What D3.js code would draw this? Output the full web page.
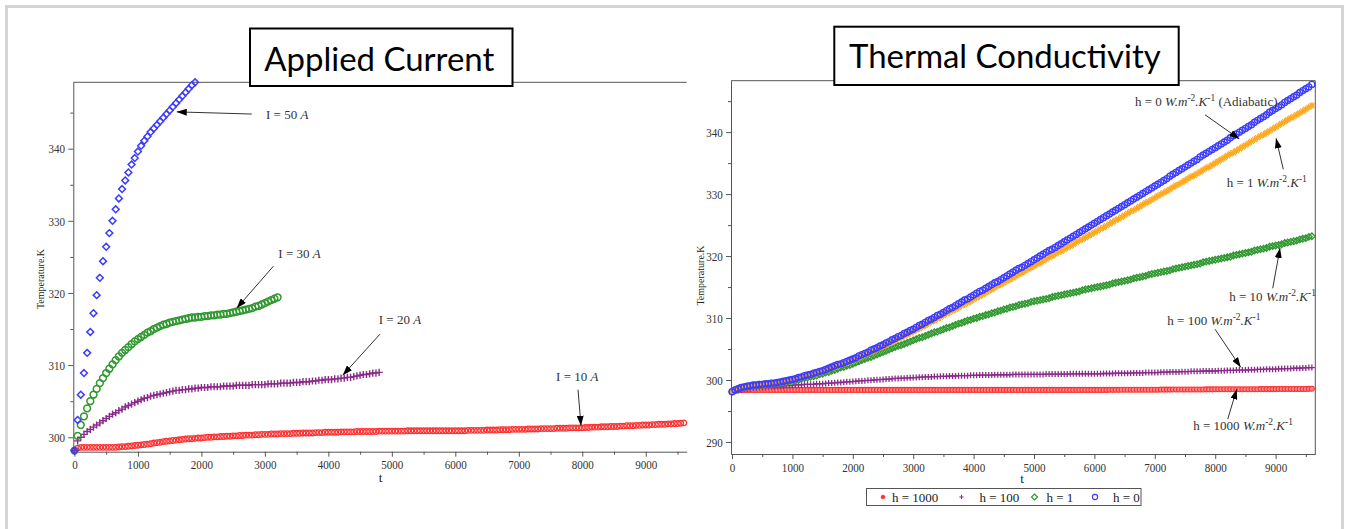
<!DOCTYPE html>
<html lang="en">
<head>
<meta charset="utf-8">
<script src="https://d3js.org/d3.v7.min.js"></script>
<style>
body { margin: 0; background: #fff; }
svg text { font-family: "Liberation Serif", "Times New Roman", serif; fill: #222; }
.tick text { font-size: 13.5px; fill: #333; }
.axis path, .axis line { stroke: #555; }
.title { font-family: Lato, "Open Sans", sans-serif; fill: #000; }
.note { font-size: 13px; fill: #333; }
</style>
</head>
<body>
<svg id="chart" width="1346" height="529"></svg>
<script>
// sampling step of every series (s)
var tStep = 50;

// ---- Applied current (left) ----
var i50 = [
298.15,302.4,305.9,308.9,311.7,314.6,317.2,319.7,322.1,324.4,
326.4,328.3,330.0,331.6,333.1,334.4,335.6,336.7,337.8,338.7,
339.6,340.4,341.1,341.7,342.3,342.8,343.3,343.8,344.3,344.8,
345.3,345.8,346.3,346.8,347.3,347.8,348.3,348.8,349.2];

var i30 = [
298.15,300.2,301.7,302.9,304.0,305.0,305.9,306.7,307.5,308.2,
308.9,309.5,310.1,310.7,311.2,311.7,312.1,312.5,312.9,313.3,
313.6,313.9,314.2,314.5,314.7,315.0,315.2,315.4,315.6,315.7,
315.9,316.0,316.1,316.2,316.3,316.4,316.5,316.6,316.6,316.7,
316.7,316.8,316.8,316.9,316.9,317.0,317.0,317.1,317.1,317.2,
317.3,317.4,317.5,317.6,317.7,317.8,317.9,318.1,318.2,318.4,
318.6,318.8,319.0,319.2,319.4];

var i20 = [
298.15,299.5,300.0,300.4,300.8,301.1,301.4,301.7,302.0,302.3,
302.6,302.9,303.2,303.4,303.7,303.9,304.2,304.4,304.6,304.8,
305.0,305.2,305.4,305.5,305.7,305.8,305.9,306.0,306.1,306.2,
306.3,306.4,306.5,306.5,306.6,306.6,306.7,306.7,306.8,306.8,
306.9,306.9,306.9,307.0,307.0,307.0,307.0,307.1,307.1,307.1,
307.1,307.2,307.2,307.2,307.2,307.2,307.3,307.3,307.3,307.3,
307.3,307.4,307.4,307.4,307.4,307.5,307.5,307.5,307.5,307.6,
307.6,307.6,307.7,307.7,307.7,307.8,307.8,307.9,307.9,308.0,
308.0,308.0,308.1,308.1,308.2,308.2,308.3,308.3,308.4,308.5,
308.6,308.7,308.7,308.8,308.9,308.9,309.0];

var i10 = [
298.15,298.5,298.6,298.6,298.6,298.6,298.6,298.6,298.6,298.6,
298.6,298.6,298.6,298.6,298.65,298.7,298.7,298.75,298.8,298.85,
298.9,298.95,299.0,299.05,299.1,299.2,299.25,299.3,299.4,299.45,
299.5,299.55,299.6,299.65,299.7,299.75,299.8,299.8,299.85,299.9,
299.9,299.95,300.0,300.0,300.05,300.05,300.1,300.1,300.15,300.15,
300.2,300.2,300.25,300.25,300.3,300.3,300.3,300.35,300.35,300.4,
300.4,300.4,300.45,300.45,300.45,300.5,300.5,300.5,300.5,300.55,
300.55,300.55,300.6,300.6,300.6,300.6,300.65,300.65,300.65,300.7,
300.7,300.7,300.7,300.7,300.75,300.75,300.75,300.75,300.75,300.8,
300.8,300.8,300.8,300.8,300.8,300.8,300.85,300.85,300.85,300.85,
300.85,300.85,300.85,300.85,300.85,300.9,300.9,300.9,300.9,300.9,
300.9,300.9,300.9,300.9,300.9,300.9,300.9,300.9,300.9,300.9,
300.9,300.9,300.9,300.9,300.95,300.95,300.95,300.95,300.95,300.95,
301.0,301.0,301.0,301.0,301.05,301.05,301.05,301.05,301.1,301.1,
301.1,301.1,301.1,301.15,301.15,301.15,301.15,301.2,301.2,301.2,
301.2,301.2,301.25,301.25,301.25,301.25,301.3,301.3,301.3,301.3,
301.3,301.35,301.35,301.4,301.4,301.4,301.45,301.45,301.45,301.5,
301.5,301.5,301.55,301.55,301.6,301.6,301.6,301.65,301.65,301.7,
301.7,301.7,301.75,301.75,301.8,301.8,301.8,301.85,301.85,301.9,
301.9,301.95,302.0];

// ---- Thermal conductivity (right) ----
var h0 = [
298.1,298.4,298.6,298.8,298.9,299.0,299.1,299.2,299.2,299.3,
299.3,299.4,299.4,299.5,299.5,299.6,299.7,299.8,299.9,300.0,
300.1,300.2,300.4,300.5,300.7,300.8,300.9,301.1,301.2,301.4,
301.5,301.7,301.9,302.1,302.3,302.5,302.6,302.8,303.0,303.2,
303.4,303.6,303.9,304.1,304.3,304.5,304.8,305.0,305.2,305.5,
305.7,306.0,306.2,306.5,306.7,307.0,307.2,307.5,307.7,308.0,
308.2,308.5,308.8,309.0,309.3,309.6,309.8,310.1,310.4,310.6,
310.9,311.2,311.5,311.7,312.0,312.3,312.6,312.9,313.1,313.4,
313.7,314.0,314.3,314.5,314.8,315.1,315.4,315.7,315.9,316.2,
316.5,316.8,317.1,317.4,317.7,318.0,318.2,318.5,318.8,319.1,
319.4,319.7,320.0,320.3,320.6,320.9,321.1,321.4,321.7,322.0,
322.3,322.6,322.9,323.2,323.5,323.8,324.1,324.4,324.7,325.0,
325.3,325.6,325.9,326.2,326.5,326.8,327.1,327.4,327.7,328.0,
328.3,328.6,328.9,329.2,329.5,329.8,330.1,330.4,330.7,331.0,
331.3,331.6,331.9,332.2,332.5,332.9,333.2,333.5,333.8,334.1,
334.4,334.7,335.0,335.3,335.6,336.0,336.3,336.6,336.9,337.2,
337.5,337.8,338.1,338.4,338.7,339.1,339.4,339.7,340.0,340.3,
340.6,340.9,341.2,341.6,341.9,342.2,342.5,342.8,343.2,343.5,
343.8,344.1,344.4,344.8,345.1,345.4,345.7,346.0,346.4,346.7,
347.0,347.3,347.7];

var h1 = [
298.1,298.4,298.6,298.8,298.9,299.0,299.1,299.2,299.2,299.3,
299.3,299.3,299.4,299.4,299.5,299.5,299.6,299.7,299.8,299.9,
300.0,300.1,300.3,300.4,300.6,300.7,300.8,301.0,301.1,301.3,
301.4,301.6,301.8,302.0,302.1,302.3,302.5,302.7,302.8,303.0,
303.2,303.4,303.6,303.9,304.1,304.3,304.5,304.7,305.0,305.2,
305.4,305.6,305.9,306.1,306.4,306.6,306.8,307.1,307.3,307.6,
307.8,308.1,308.3,308.6,308.8,309.1,309.4,309.6,309.9,310.1,
310.4,310.7,310.9,311.2,311.4,311.7,312.0,312.2,312.5,312.7,
313.0,313.3,313.5,313.8,314.1,314.4,314.6,314.9,315.2,315.4,
315.7,316.0,316.2,316.5,316.8,317.1,317.3,317.6,317.9,318.1,
318.4,318.7,318.9,319.2,319.5,319.8,320.0,320.3,320.6,320.8,
321.1,321.4,321.6,321.9,322.2,322.5,322.7,323.0,323.3,323.5,
323.8,324.1,324.4,324.6,324.9,325.2,325.5,325.8,326.0,326.3,
326.6,326.9,327.2,327.4,327.7,328.0,328.3,328.6,328.8,329.1,
329.4,329.7,330.0,330.2,330.5,330.8,331.1,331.4,331.6,331.9,
332.2,332.5,332.8,333.0,333.3,333.6,333.9,334.2,334.4,334.7,
335.0,335.3,335.6,335.9,336.2,336.5,336.7,337.0,337.3,337.6,
337.9,338.2,338.5,338.8,339.1,339.4,339.6,339.9,340.2,340.5,
340.8,341.1,341.4,341.7,342.0,342.3,342.5,342.8,343.1,343.4,
343.7,344.0,344.3];

var h10 = [
298.1,298.4,298.6,298.7,298.8,298.9,299.0,299.1,299.1,299.2,
299.2,299.3,299.3,299.4,299.4,299.5,299.5,299.6,299.6,299.7,
299.8,299.9,300.0,300.2,300.3,300.4,300.5,300.6,300.7,300.9,
301.0,301.2,301.3,301.5,301.6,301.8,302.0,302.1,302.3,302.4,
302.6,302.8,303.0,303.2,303.4,303.6,303.7,303.9,304.1,304.3,
304.5,304.7,304.9,305.1,305.3,305.5,305.6,305.8,306.0,306.2,
306.4,306.6,306.8,306.9,307.1,307.3,307.5,307.7,307.8,308.0,
308.2,308.4,308.5,308.7,308.9,309.1,309.2,309.4,309.6,309.7,
309.9,310.0,310.2,310.3,310.5,310.6,310.8,310.9,311.1,311.2,
311.4,311.5,311.7,311.8,311.9,312.1,312.2,312.3,312.4,312.6,
312.7,312.8,312.9,313.0,313.1,313.2,313.4,313.5,313.6,313.7,
313.8,313.9,314.0,314.1,314.2,314.3,314.5,314.6,314.7,314.8,
314.9,315.0,315.1,315.2,315.3,315.4,315.6,315.7,315.8,315.9,
316.0,316.1,316.2,316.4,316.5,316.6,316.7,316.8,317.0,317.1,
317.2,317.3,317.4,317.5,317.6,317.7,317.9,318.0,318.1,318.2,
318.3,318.4,318.5,318.6,318.7,318.8,319.0,319.1,319.2,319.3,
319.4,319.5,319.6,319.7,319.8,319.9,320.1,320.2,320.3,320.4,
320.5,320.6,320.7,320.9,321.0,321.1,321.2,321.3,321.5,321.6,
321.7,321.8,321.9,322.1,322.2,322.3,322.4,322.5,322.7,322.8,
322.9,323.1,323.2];

var h100 = [
298.1,298.2,298.3,298.4,298.5,298.5,298.6,298.7,298.7,298.8,
298.8,298.8,298.9,298.9,298.9,299.0,299.0,299.0,299.1,299.1,
299.1,299.2,299.2,299.2,299.3,299.3,299.3,299.3,299.4,299.4,
299.4,299.45,299.5,299.5,299.55,299.6,299.6,299.65,299.7,299.7,
299.75,299.8,299.85,299.85,299.9,299.95,299.95,300.0,300.05,300.05,
300.1,300.15,300.15,300.2,300.25,300.25,300.3,300.3,300.35,300.35,
300.4,300.4,300.45,300.45,300.5,300.5,300.5,300.55,300.55,300.6,
300.6,300.6,300.65,300.65,300.65,300.7,300.7,300.7,300.7,300.75,
300.75,300.75,300.8,300.8,300.8,300.8,300.8,300.85,300.85,300.85,
300.85,300.85,300.85,300.9,300.9,300.9,300.9,300.9,300.9,300.9,
300.9,300.9,300.9,300.9,300.95,300.95,300.95,300.95,300.95,300.95,
300.95,300.95,301.0,301.0,301.0,301.0,301.0,301.0,301.0,301.0,
301.0,301.0,301.0,301.05,301.05,301.05,301.05,301.1,301.1,301.1,
301.1,301.1,301.1,301.15,301.15,301.15,301.15,301.2,301.2,301.2,
301.2,301.2,301.25,301.25,301.25,301.3,301.3,301.3,301.3,301.35,
301.35,301.35,301.4,301.4,301.4,301.4,301.45,301.45,301.45,301.45,
301.45,301.5,301.5,301.5,301.55,301.55,301.55,301.6,301.6,301.6,
301.6,301.65,301.65,301.65,301.7,301.7,301.7,301.75,301.75,301.75,
301.75,301.8,301.8,301.85,301.85,301.85,301.9,301.9,301.9,301.95,
301.95,302.0,302.0];

var h1000 = [
298.06,298.25,298.32,298.36,298.38,298.4,298.4,298.4,298.4,298.4,
298.4,298.4,298.4,298.4,298.4,298.4,298.4,298.4,298.4,298.4,
298.4,298.4,298.4,298.4,298.4,298.4,298.4,298.4,298.4,298.4,
298.4,298.4,298.4,298.4,298.4,298.4,298.4,298.4,298.4,298.4,
298.4,298.4,298.4,298.4,298.4,298.4,298.4,298.4,298.4,298.4,
298.4,298.4,298.4,298.4,298.4,298.4,298.4,298.4,298.4,298.4,
298.4,298.4,298.4,298.4,298.4,298.4,298.4,298.4,298.4,298.4,
298.4,298.4,298.4,298.4,298.4,298.4,298.4,298.4,298.4,298.4,
298.4,298.4,298.4,298.4,298.4,298.4,298.4,298.4,298.4,298.4,
298.4,298.4,298.4,298.4,298.4,298.4,298.4,298.4,298.4,298.4,
298.4,298.4,298.4,298.4,298.4,298.4,298.4,298.4,298.4,298.4,
298.4,298.4,298.4,298.4,298.4,298.4,298.4,298.4,298.4,298.4,
298.4,298.4,298.4,298.4,298.4,298.41,298.41,298.41,298.41,298.42,
298.42,298.42,298.42,298.43,298.43,298.43,298.43,298.44,298.44,298.44,
298.44,298.44,298.45,298.45,298.45,298.45,298.46,298.46,298.46,298.46,
298.47,298.47,298.47,298.48,298.48,298.48,298.48,298.49,298.49,298.49,
298.5,298.5,298.5,298.5,298.5,298.51,298.51,298.51,298.51,298.51,
298.51,298.52,298.52,298.52,298.52,298.53,298.53,298.53,298.53,298.53,
298.53,298.54,298.54,298.54,298.54,298.55,298.55,298.55,298.55,298.55,
298.56,298.57,298.58];

var xTicks = [0,1000,2000,3000,4000,5000,6000,7000,8000,9000];
var xMinor = [500,1500,2500,3500,4500,5500,6500,7500,8500,9500];
var yTicksL = [300,310,320,330,340];
var yMinorL = [305,315,325,335,345];
var yTicksR = [290,300,310,320,330,340];
var yMinorR = [295,305,315,325,335,345];
var legendLabels = ["h = 1000", "h = 100", "h = 1", "h = 0"];

var svg = d3.select("#chart");

// outer grey frame
svg.append("rect").attr("x",6.5).attr("y",6.5).attr("width",1336).attr("height",540)
   .attr("fill","none").attr("stroke","#d4d4d4").attr("stroke-width",3);

var defs = svg.append("defs");
defs.append("marker").attr("id","arrow").attr("viewBox","0 0 10 7")
    .attr("refX",10).attr("refY",3.5).attr("markerUnits","userSpaceOnUse")
    .attr("markerWidth",10).attr("markerHeight",7).attr("orient","auto")
  .append("path").attr("d","M0,0L10,3.5L0,7Z").attr("fill","#000");

// marker shapes
var shapes = {
  diamond: function(r){ return "M0,"+(-r)+"L"+r+",0L0,"+r+"L"+(-r)+",0Z"; },
  circle: function(r){ return "M"+r+",0A"+r+","+r+" 0 1,1 "+(-r)+",0A"+r+","+r+" 0 1,1 "+r+",0Z"; },
  plus: function(r){ return "M"+(-r)+",0H"+r+"M0,"+(-r)+"V"+r; },
  star: function(r){ var a=r*0.7; return "M"+(-r)+",0H"+r+"M0,"+(-r)+"V"+r+"M"+(-a)+","+(-a)+"L"+a+","+a+"M"+(-a)+","+a+"L"+a+","+(-a); }
};

function drawSeries(g, x, y, vals, s) {
  g.append("g").selectAll("path").data(vals).enter().append("path")
    .attr("transform", function(d,i){ return "translate("+x(i*tStep)+","+y(d)+")"; })
    .attr("d", shapes[s.shape](s.r))
    .attr("fill", s.fill || "none")
    .attr("stroke", s.color)
    .attr("stroke-width", s.w || 1);
}

function drawAxes(x, y, xt, xm, yt, ym, boxed) {
  var x0 = x.range()[0], x1 = x.range()[1], y0 = y.range()[0], y1 = y.range()[1];
  var ax = svg.append("g").attr("class","axis").attr("transform","translate(0,"+y0+")")
    .call(d3.axisBottom(x).tickValues(xt).tickSize(5).tickSizeOuter(0).tickFormat(d3.format("d")));
  ax.selectAll(".tick text").attr("transform","scale(0.82,1)");
  svg.append("g").attr("class","axis").attr("transform","translate(0,"+y0+")")
    .call(d3.axisBottom(x).tickValues(xm).tickSize(3).tickSizeOuter(0).tickFormat(""))
    .select(".domain").remove();
  var ay = svg.append("g").attr("class","axis").attr("transform","translate("+x0+",0)")
    .call(d3.axisLeft(y).tickValues(yt).tickSize(5).tickPadding(5).tickSizeOuter(0).tickFormat(d3.format("d")));
  ay.selectAll(".tick text").attr("transform","scale(0.82,1)");
  svg.append("g").attr("class","axis").attr("transform","translate("+x0+",0)")
    .call(d3.axisLeft(y).tickValues(ym).tickSize(3).tickSizeOuter(0).tickFormat(""))
    .select(".domain").remove();
  svg.append("line").attr("x1",x0).attr("x2",x1).attr("y1",y1).attr("y2",y1).attr("stroke","#555");
  if (boxed) svg.append("line").attr("x1",x1).attr("x2",x1).attr("y1",y1).attr("y2",y0).attr("stroke","#555");
}

function annotate(x, y, a) {
  svg.append("line")
    .attr("x1", x(a.tail[0])).attr("y1", y(a.tail[1]))
    .attr("x2", x(a.tip[0])).attr("y2", y(a.tip[1]))
    .attr("stroke","#333").attr("stroke-width",1).attr("marker-end","url(#arrow)");
  var txt = svg.append("text").attr("class","note").attr("x", x(a.at[0])).attr("y", y(a.at[1]));
  var shift = 0;
  a.parts.forEach(function(p){
    var ts = txt.append("tspan").text(p[0]);
    if (p[1] === "i") ts.style("font-style","italic");
    var want = p[1] === "s" ? -5 : 0;
    if (want !== shift) { ts.attr("dy", want - shift); shift = want; }
    if (p[1] === "s") ts.style("font-size","9.5px");
  });
}

function titleBox(label, bx, by, bw, bh, cx, base, targetW) {
  svg.append("rect").attr("x",bx).attr("y",by).attr("width",bw).attr("height",bh)
    .attr("fill","#fff").attr("stroke","#000").attr("stroke-width",2);
  var t = svg.append("text").attr("class","title").attr("x",cx).attr("y",base)
    .attr("text-anchor","middle").style("font-size","30px").text(label);
  var w = t.node().getComputedTextLength();
  t.style("font-size", (30 * targetW / w).toFixed(2) + "px");
}

function yLabel(x, y) {
  svg.append("text").attr("transform","translate("+x+","+y+") rotate(-90)")
    .attr("text-anchor","middle").style("font-size","10px").attr("fill","#333").text("Temperature.K");
}

// ---------- left chart ----------
var xL = d3.scaleLinear().domain([-18, 9645]).range([73.3, 686.7]);
var yL = d3.scaleLinear().domain([298.0, 349.2]).range([451.7, 82.3]);
drawAxes(xL, yL, xTicks, xMinor, yTicksL, yMinorL, false);

var gL = svg.append("g");
drawSeries(gL, xL, yL, i10, {shape:"circle", r:2.8, color:"#ff3030", w:1.3});
drawSeries(gL, xL, yL, i20, {shape:"plus", r:3.6, color:"#8b2a8b", w:1.4});
drawSeries(gL, xL, yL, i30, {shape:"circle", r:3.4, color:"#2f982f", w:1.5});
drawSeries(gL, xL, yL, i50, {shape:"diamond", r:3.4, color:"#3b3bff", w:1.5});

var notesL = [
  {tip:[1612,345.1], tail:[2793,344.8], at:[3018,344.1], parts:[["I = 50 ","n"],["A","i"]]},
  {tip:[2557,317.9], tail:[3133,323.7], at:[3212,324.9], parts:[["I = 30 ","n"],["A","i"]]},
  {tip:[4227,308.6], tail:[4814,314.3], at:[4794,315.7], parts:[["I = 20 ","n"],["A","i"]]},
  {tip:[7980,301.6], tail:[7933,306.6], at:[7587,307.8], parts:[["I = 10 ","n"],["A","i"]]}
];
notesL.forEach(function(a){ annotate(xL, yL, a); });

svg.append("text").attr("x",380.5).attr("y",481.5).attr("text-anchor","middle").style("font-size","13px").attr("fill","#333").text("t");
yLabel(44, 279);

// ---------- right chart ----------
var xR = d3.scaleLinear().domain([-17, 9657]).range([731, 1315.3]);
var yR = d3.scaleLinear().domain([288.06, 348.3]).range([454, 80.7]);
drawAxes(xR, yR, xTicks, xMinor, yTicksR, yMinorR, true);

var seriesR = [
  {vals:h1000, shape:"circle", r:2.5, color:"#ff3030", fill:"#ff8c8c", w:1.1},
  {vals:h100, shape:"plus", r:3, color:"#8b2a8b", w:1.3},
  {vals:h10, shape:"diamond", r:3.2, color:"#2f982f", w:1.4},
  {vals:h1, shape:"star", r:3.5, color:"#ffaa22", w:1.3},
  {vals:h0, shape:"circle", r:3, color:"#3b3bff", w:1.4}
];
var gR = svg.append("g");
seriesR.forEach(function(s){ drawSeries(gR, xR, yR, s.vals, s); });

var unit = [["W.m","i"],["-2","s"],[".K","i"],["-1","s"]];
var notesR = [
  {tip:[8399,338.9], tail:[7831,342.8], at:[6672,344.2], parts:[["h = 0 ","n"]].concat(unit,[[" (Adiabatic)","n"]])},
  {tip:[9007,339.0], tail:[9127,334.0], at:[8190,331.1], parts:[["h = 1 ","n"]].concat(unit)},
  {tip:[9073,321.3], tail:[8952,314.8], at:[8233,312.8], parts:[["h = 10 ","n"]].concat(unit)},
  {tip:[8422,302.05], tail:[7997,308.2], at:[7207,308.9], parts:[["h = 100 ","n"]].concat(unit)},
  {tip:[8356,298.5], tail:[8207,293.7], at:[7637,291.9], parts:[["h = 1000 ","n"]].concat(unit)}
];
notesR.forEach(function(a){ annotate(xR, yR, a); });

svg.append("text").attr("x",1022).attr("y",483).attr("text-anchor","middle").style("font-size","13px").attr("fill","#333").text("t");
yLabel(704, 275.5);

// legend
var lg = svg.append("g");
lg.append("rect").attr("x",866.5).attr("y",488.5).attr("width",274.5).attr("height",17)
  .attr("fill","#fff").attr("stroke","#555");
var legendItems = [
  {mx:883, tx:892, shape:"circle", r:1.8, color:"#ff3030", fill:"#ff3030"},
  {mx:961.5, tx:979.5, shape:"plus", r:2.2, color:"#8b2a8b"},
  {mx:1034.5, tx:1046.5, shape:"diamond", r:3, color:"#2f982f", w:1.2},
  {mx:1095, tx:1113, shape:"circle", r:2.6, color:"#3b3bff", w:1.1}
];
legendItems.forEach(function(it, i){
  lg.append("path").attr("transform","translate("+it.mx+",497)")
    .attr("d", shapes[it.shape](it.r)).attr("fill", it.fill || "none")
    .attr("stroke", it.color).attr("stroke-width", it.w || 1);
  lg.append("text").attr("x",it.tx).attr("y",501.5).style("font-size","13px").attr("fill","#222").text(legendLabels[i]);
});

// titles
titleBox("Applied Current", 250, 28.5, 262.5, 57.5, 379.3, 71, 230);
titleBox("Thermal Conductivity", 834.3, 26.7, 344.4, 58.3, 1004.9, 68.3, 312);
</script>
</body>
</html>
